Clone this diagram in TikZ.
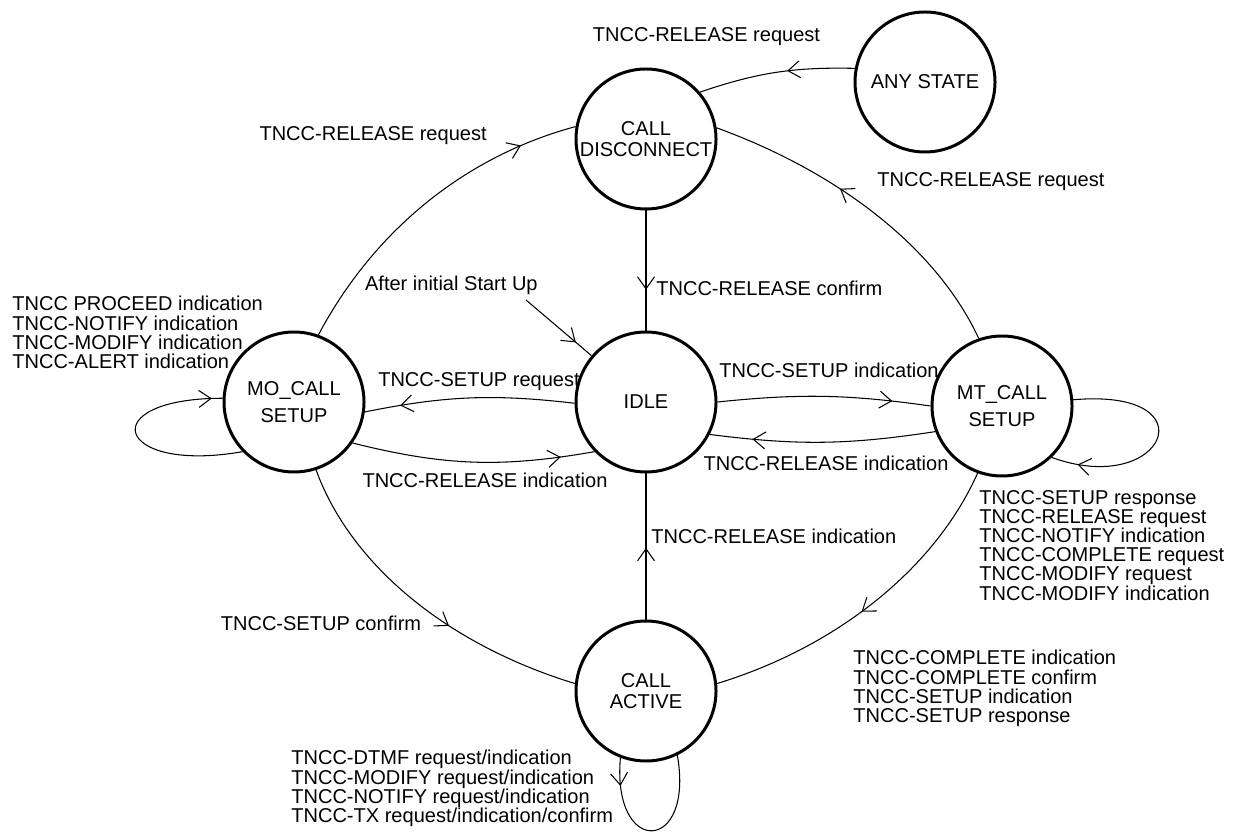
\documentclass[tikz,border=0pt]{standalone}
\usepackage{fontspec}
\setmainfont{Liberation Sans}
\usetikzlibrary{arrows.meta,decorations.markings}

\tikzset{
  state/.style={circle, draw, line width=1.7pt, minimum size=2.8cm, inner sep=0pt,
    align=center, font=\fontsize{11.4}{12}\selectfont},
  lbl/.style={inner sep=0pt, align=left, font=\fontsize{11.4}{10.9}\selectfont},
  trans/.style={line width=0.6pt},
  arrowat/.style={postaction={decorate, decoration={markings,
    mark=at position #1 with {\arrow{Straight Barb[length=2.4mm,width=3.4mm]}}}}}
}

\begin{document}
\begin{tikzpicture}
        \useasboundingbox (0,0) rectangle (24.72,-16.64);
        \node[state] (disc)   at (12.92,-2.78)  {CALL\\DISCONNECT};
        \node[state] (any)    at (18.50,-1.64)  {ANY STATE};
        \node[state] (idle)   at (12.92,-8.04)  {IDLE};
        \node[state] (mo)     at ( 5.88,-8.04)  {MO\_CALL\\[3.4pt]SETUP};
        \node[state] (mt)     at (20.04,-8.12)  {MT\_CALL\\[3.4pt]SETUP};
        \node[state] (active) at (12.92,-13.82) {CALL\\ACTIVE};
        \coordinate (start) at (10.52,-6.00);
        %% transition labels
        \node[lbl]                    at (14.13,-0.74) {TNCC-RELEASE request};
        \node[lbl,anchor=east]        at ( 9.74,-2.72) {TNCC-RELEASE request};
        \node[lbl,anchor=west]        at (17.54,-3.64) {TNCC-RELEASE request};
        \node[lbl,anchor=west]        at (13.12,-5.76) {TNCC-RELEASE confirm};
        \node[lbl,anchor=east]        at (10.76,-5.70) {After initial Start Up};
        \node[lbl]                    at ( 9.58,-7.64) {TNCC-SETUP request};
        \node[lbl]                    at ( 9.70,-9.60) {TNCC-RELEASE indication};
        \node[lbl]                    at (16.58,-7.40) {TNCC-SETUP indication};
        \node[lbl]                    at (16.52,-9.26) {TNCC-RELEASE indication};
        \node[lbl,anchor=west]        at (13.02,-10.72) {TNCC-RELEASE indication};
        \node[lbl]                    at ( 6.42,-12.46) {TNCC-SETUP confirm};
        \node[lbl,anchor=north west]  at (17.06,-13.00) {TNCC-COMPLETE indication\\TNCC-COMPLETE confirm\\TNCC-SETUP indication\\TNCC-SETUP response};
        \node[lbl,anchor=north west]  at ( 0.24,-5.92) {TNCC PROCEED indication\\TNCC-NOTIFY indication\\TNCC-MODIFY indication\\TNCC-ALERT indication};
        \node[lbl,anchor=north west]  at (19.58,-9.80) {TNCC-SETUP response\\TNCC-RELEASE request\\TNCC-NOTIFY indication\\TNCC-COMPLETE request\\TNCC-MODIFY request\\TNCC-MODIFY indication};
        \node[lbl,anchor=north west]  at ( 5.82,-15.00) {TNCC-DTMF request/indication\\TNCC-MODIFY request/indication\\TNCC-NOTIFY request/indication\\TNCC-TX request/indication/confirm};
        %% transitions
        \draw[trans,arrowat=0.43] (any.169) to[bend right=10] (disc.41);
        \draw[trans,arrowat=0.83] (mo.70) .. controls +(62:2.4) and +(195:2.25) .. (disc.170);
        \draw[trans,arrowat=0.6] (mt.109) .. controls +(115:2.0) and +(-20:2.6) .. (disc.9);
        \draw[trans,arrowat=0.66] (disc) -- (idle);
        \draw[trans,arrowat=0.76] (start) -- (idle);
        \draw[trans,arrowat=0.83] (idle.181) to[bend right=9] (mo.-8);
        \draw[trans,arrowat=0.86] (mo.-35) to[bend right=12] (idle.224);
        \draw[trans,arrowat=0.82] (idle.0) to[bend left=7] (mt.180);
        \draw[trans,arrowat=0.81] (mt.201) to[bend left=8] (idle.-27);
        \draw[trans,arrowat=0.49] (active) -- (idle);
        \draw[trans,arrowat=0.6] (mo.-72) .. controls +(-70:2.0) and +(163:2.7) .. (active.174);
        \draw[trans,arrowat=0.53] (mt.250) .. controls +(246:2.05) and +(17:2.55) .. (active.6);
        %% self loops
        \draw[trans,arrowat=0.95] (mo.224) .. controls +(190:2.6) and +(180:2.6) .. (mo.177);
        \draw[trans,arrowat=0.88] (mt.5) .. controls +(5:2.8) and +(-20:2.4) .. (mt.-46);
        \draw[trans,arrowat=0.16] (active.249) .. controls +(-95:2.0) and +(-80:2.0) .. (active.296);
\end{tikzpicture}
\end{document}
